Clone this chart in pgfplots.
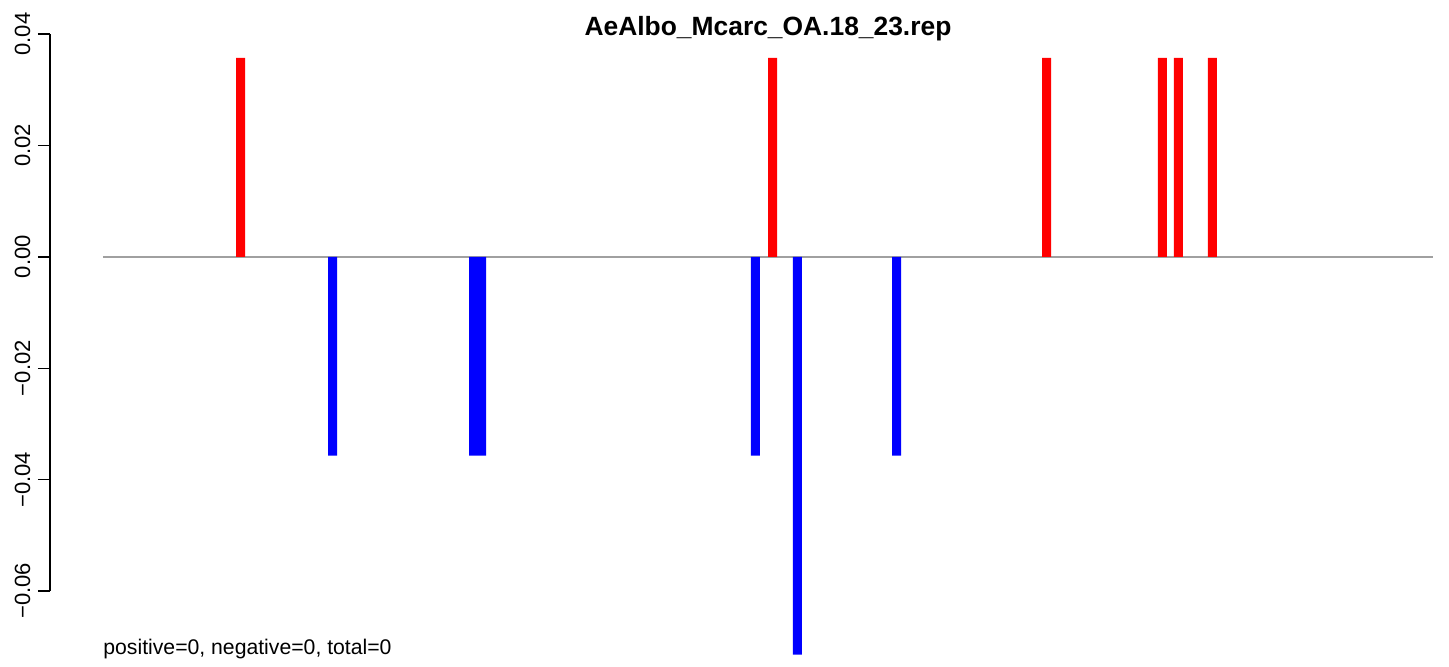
\documentclass[border=0pt]{standalone}
\usepackage{fontspec}
\setmainfont{Liberation Sans}
\usepackage{pgfplots}
\pgfplotsset{compat=1.18}
\begin{document}
\fontsize{11}{13}\selectfont
\begin{tikzpicture}
\useasboundingbox (-25pt,-37.5pt) rectangle (699.5pt,295.5pt);
\begin{axis}[
  at={(0,0)}, anchor=south west,
  scale only axis,
  width=691.5pt, height=278.5pt,
  xmin=50, xmax=1433,
  ymin=-0.06, ymax=0.04,
  clip=false,
  axis x line=none,
  axis y line=left,
  axis line style={-, line width=0.7pt, black},
  ytick={-0.06,-0.04,-0.02,0,0.02,0.04},
  yticklabels={−0.06,−0.04,−0.02,0.00,0.02,0.04},
  scaled y ticks=false,
  tick align=outside,
  major tick length=6pt,
  tick style={line width=0.7pt, black},
  yticklabel style={rotate=90, anchor=south, font=\fontsize{11}{13}\selectfont},
]
\addplot[sharp plot, no markers, color={rgb,255:red,160;green,160;blue,160}, line width=1pt] coordinates {(103,0) (1433,0)};
\addplot[ybar, bar width=4.5pt, bar shift=0pt, draw=none, fill=red] coordinates {
  (240.5,0.0357) (772.5,0.0357) (1046.5,0.0357) (1162.3,0.0357) (1178.3,0.0357) (1212.3,0.0357)};
\addplot[ybar, bar width=4.5pt, bar shift=0pt, draw=none, fill=blue] coordinates {
  (332.5,-0.0357) (473.5,-0.0357) (481.5,-0.0357) (755.3,-0.0357) (797.3,-0.0714) (896.5,-0.0357)};
\node[anchor=base, font=\bfseries\fontsize{13.2}{15}\selectfont] at (axis cs:768,0.0398) {AeAlbo\_Mcarc\_OA.18\_23.rep};
\node[anchor=base west, inner sep=0pt, font=\fontsize{10.6}{13}\selectfont] at (axis cs:103,-0.0714) {positive=0, negative=0, total=0};
\end{axis}
\end{tikzpicture}
\end{document}
